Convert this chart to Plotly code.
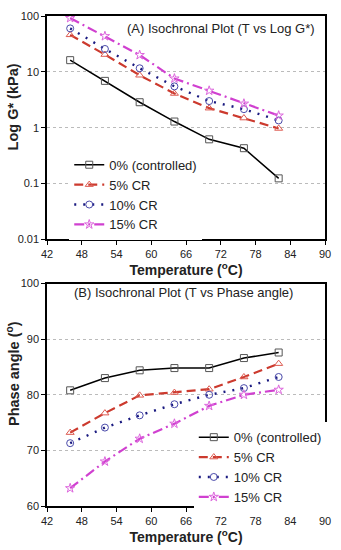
import plotly.graph_objects as go

temps = [46, 52, 58, 64, 70, 76, 82]
series_names = ["0% (controlled)", "5% CR", "10% CR", "15% CR"]

g_ctrl = [16.2, 6.9, 2.86, 1.29, 0.62, 0.43, 0.124]
g_5 = [46, 20.4, 8.7, 4.1, 2.24, 1.49, 0.97]
g_10 = [60, 25.7, 11.6, 5.5, 3.0, 2.15, 1.35]
g_15 = [92, 43.6, 20, 7.6, 4.6, 2.7, 1.65]

p_ctrl = [80.8, 83.0, 84.4, 84.8, 84.8, 86.6, 87.6]
p_5 = [73.2, 76.7, 79.9, 80.4, 81.0, 83.2, 85.6]
p_10 = [71.3, 74.1, 76.3, 78.3, 80.0, 81.2, 83.2]
p_15 = [63.2, 68.0, 72.1, 74.8, 78.0, 80.0, 80.9]

x_ticks = [42, 48, 54, 60, 66, 72, 78, 84, 90]

styles = [
    dict(color="#000000", dash="solid", width=1.5, symbol="square-open", mcolor="#555555"),
    dict(color="#cc3a2e", dash="9px,5px", width=2.2, symbol="triangle-up-open", mcolor="#dd5a50"),
    dict(color="#1a1a80", dash="2px,7px", width=2.4, symbol="circle-open", mcolor="#4a4aaa"),
    dict(color="#d040d0", dash="10px,4px,2px,4px", width=2.2, symbol="star-open", mcolor="#dd66dd"),
]

fig = go.Figure()
FONT = "Liberation Sans, Arial, sans-serif"


def add_series(values, xa, ya, leg):
    for name, ys, st in zip(series_names, values, styles):
        fig.add_trace(go.Scatter(
            x=temps, y=ys, name=name, mode="lines+markers",
            line=dict(color=st["color"], dash=st["dash"], width=st["width"]),
            marker=dict(symbol=st["symbol"], size=7, color=st["mcolor"],
                        line=dict(width=1, color=st["mcolor"])),
            xaxis=xa, yaxis=ya, legend=leg,
        ))


add_series([g_ctrl, g_5, g_10, g_15], "x", "y", "legend")
add_series([p_ctrl, p_5, p_10, p_15], "x2", "y2", "legend2")

axis_common = dict(
    showline=True, linecolor="black", linewidth=1.5, mirror=True,
    ticks="outside", ticklen=4, tickcolor="black",
    tickfont=dict(family=FONT, size=11, color="#222"),
    zeroline=False, ticklabeloverflow="allow",
)
grid = dict(showgrid=True, gridcolor="#bbbbbb", griddash="dot", gridwidth=1)
xtitle = dict(text="<b>Temperature (<sup>o</sup>C)</b>", font=dict(size=14, family=FONT), standoff=3)

fig.update_layout(
    width=341, height=550,
    margin=dict(l=47, r=10, t=10, b=42),
    paper_bgcolor="white", plot_bgcolor="white",
    font=dict(family=FONT, color="#222"),
    xaxis=dict(domain=[0, 1], anchor="y", range=[42, 90], tickvals=x_ticks,
               showgrid=False, title=xtitle, **axis_common),
    yaxis=dict(domain=[0.544, 1], anchor="x", type="log", range=[-2, 2],
               tickvals=[0.01, 0.1, 1, 10, 100], ticktext=["0.01", "0.1", "1", "10", "100"],
               **grid, **axis_common),
    xaxis2=dict(domain=[0, 1], anchor="y2", range=[42, 90], tickvals=x_ticks,
                showgrid=False, title=xtitle, **axis_common),
    yaxis2=dict(domain=[0, 0.454], anchor="x2", range=[60, 100], tickvals=[60, 70, 80, 90, 100],
                **grid, **axis_common),
    legend=dict(x=0.08, y=0.727, xanchor="left", yanchor="top", bgcolor="white",
                font=dict(size=13, family=FONT), tracegroupgap=0, itemwidth=30),
    legend2=dict(x=0.528, y=0.171, xanchor="left", yanchor="top", bgcolor="white",
                 font=dict(size=13, family=FONT), tracegroupgap=0, itemwidth=30),
    showlegend=True,
    annotations=[
        dict(text="(A) Isochronal Plot (T vs Log G*)", xref="paper", yref="paper",
             x=0.625, y=0.974, xanchor="center", yanchor="middle", showarrow=False,
             font=dict(size=13, family=FONT, color="#222")),
        dict(text="(B) Isochronal Plot (T vs Phase angle)", xref="paper", yref="paper",
             x=0.49, y=0.436, xanchor="center", yanchor="middle", showarrow=False,
             font=dict(size=13, family=FONT, color="#222")),
        dict(text="<b>Log G* (kPa)</b>", xref="paper", yref="paper", textangle=-90,
             x=-0.123, y=0.815, xanchor="center", yanchor="middle", showarrow=False,
             font=dict(size=14.5, family=FONT, color="#222")),
        dict(text="<b>Phase angle (<sup>o</sup>)</b>", xref="paper", yref="paper", textangle=-90,
             x=-0.123, y=0.271, xanchor="center", yanchor="middle", showarrow=False,
             font=dict(size=14.5, family=FONT, color="#222")),
    ],
)

fig.write_html("out.html", config={"displayModeBar": False},
               post_script="document.body.style.margin='0';")
